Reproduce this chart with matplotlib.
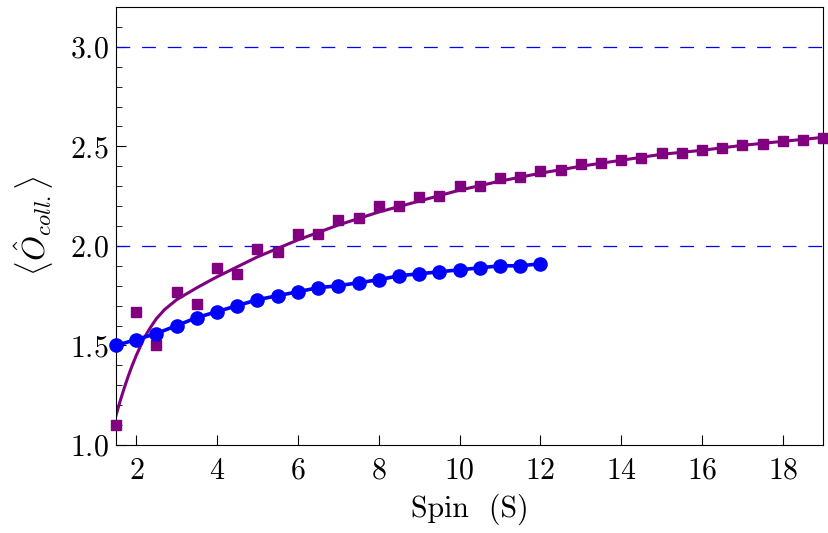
import matplotlib
matplotlib.use("Agg")
import matplotlib.pyplot as plt
from matplotlib.ticker import MultipleLocator

plt.rcParams['font.family'] = 'cmr10'
plt.rcParams['mathtext.fontset'] = 'cm'
plt.rcParams['axes.formatter.use_mathtext'] = True

# data
spin_purple = [1.5, 2, 2.5, 3, 3.5, 4, 4.5, 5, 5.5, 6, 6.5, 7, 7.5, 8, 8.5, 9, 9.5, 10,
               10.5, 11, 11.5, 12, 12.5, 13, 13.5, 14, 14.5, 15, 15.5, 16, 16.5, 17,
               17.5, 18, 18.5, 19]
obs_purple = [1.10, 1.67, 1.50, 1.77, 1.71, 1.89, 1.86, 1.985, 1.97, 2.06, 2.06, 2.13,
              2.14, 2.20, 2.20, 2.245, 2.25, 2.30, 2.30, 2.34, 2.345, 2.375, 2.38, 2.41,
              2.415, 2.43, 2.44, 2.465, 2.465, 2.48, 2.49, 2.505, 2.51, 2.525, 2.53, 2.54]

# fitted curve
fit_spin = [1.5, 1.6, 1.7, 1.8, 1.9, 2.0, 2.1, 2.2, 2.35, 2.5, 2.7, 3.0, 3.5, 4.0, 4.5,
            5.0, 6.0, 7.0, 8.0, 9.0, 10, 11, 12, 13, 14, 15, 16, 17, 18, 19]
fit_purple = [1.15, 1.22, 1.285, 1.345, 1.40, 1.45, 1.495, 1.54, 1.59, 1.635, 1.68,
              1.73, 1.79, 1.845, 1.895, 1.945, 2.03, 2.105, 2.17, 2.225, 2.28, 2.325,
              2.365, 2.40, 2.43, 2.46, 2.48, 2.505, 2.525, 2.545]

spin_blue = [1.5, 2, 2.5, 3, 3.5, 4, 4.5, 5, 5.5, 6, 6.5, 7, 7.5, 8, 8.5, 9, 9.5, 10,
             10.5, 11, 11.5, 12]
obs_blue = [1.50, 1.53, 1.56, 1.60, 1.64, 1.67, 1.70, 1.73, 1.75, 1.77, 1.79, 1.80,
            1.815, 1.83, 1.85, 1.86, 1.87, 1.88, 1.89, 1.90, 1.90, 1.91]

limits = [2.0, 3.0]

fig = plt.figure(figsize=(8.29, 5.33), dpi=100)
ax = fig.add_axes([0.140, 0.165, 0.853, 0.822])

for h in limits:
    ax.axhline(h, color='blue', lw=0.9, dashes=(11, 9.5))

ax.plot(fit_spin, fit_purple, color='purple', lw=2.2)
ax.plot(spin_purple, obs_purple, 's', color='purple', ms=6.5, clip_on=False, zorder=3)
ax.plot(spin_blue, obs_blue, 'o-', color='blue', lw=2.6, ms=9.5, clip_on=False, zorder=4)

ax.set_xlim(1.5, 19)
ax.set_ylim(1.0, 3.2)
ax.xaxis.set_major_locator(MultipleLocator(2))
ax.yaxis.set_major_locator(MultipleLocator(0.5))
ax.yaxis.set_minor_locator(MultipleLocator(0.1))
ax.tick_params(which='both', direction='in', labelsize=21.5, top=False, right=False)
ax.tick_params(which='major', length=7)
ax.tick_params(which='minor', length=4)
ax.tick_params(axis='x', pad=9)
ax.tick_params(axis='y', pad=5)

ax.set_xlabel('Spin  (S)', fontsize=21.5, labelpad=6)
ax.set_ylabel(r'$\langle\hat{O}_{coll.}\rangle$', fontsize=23, labelpad=10)

plt.savefig('out.png', dpi=100)
